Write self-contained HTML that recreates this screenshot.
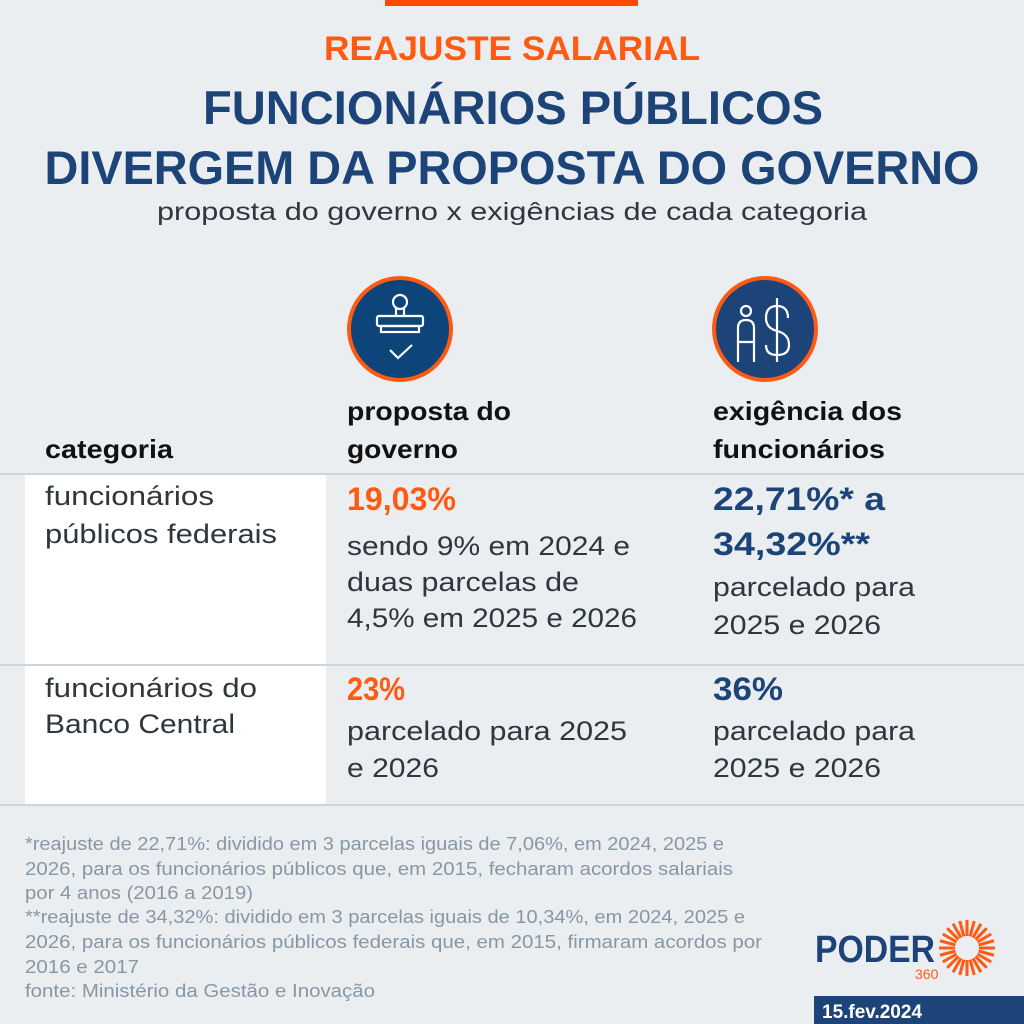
<!DOCTYPE html>
<html><head><meta charset="utf-8"><style>
html,body{margin:0;padding:0;background:#eaeef1;}
svg{display:block;font-family:"Liberation Sans",sans-serif;}
</style></head><body>
<svg width="1024" height="1024" viewBox="0 0 1024 1024" xmlns="http://www.w3.org/2000/svg">
<rect width="1024" height="1024" fill="#eaeef1"/>
<rect x="385" y="0" width="253" height="6" fill="#ff4a00"/>
<text x="512" y="60" text-anchor="middle" font-size="34" font-weight="bold" fill="#ff5a12" textLength="376" lengthAdjust="spacingAndGlyphs">REAJUSTE SALARIAL</text>
<text x="513" y="124" text-anchor="middle" font-size="47" font-weight="bold" fill="#1c4478" textLength="620" lengthAdjust="spacingAndGlyphs">FUNCIONÁRIOS PÚBLICOS</text>
<text x="512" y="184" text-anchor="middle" font-size="47" font-weight="bold" fill="#1c4478" textLength="935" lengthAdjust="spacingAndGlyphs">DIVERGEM DA PROPOSTA DO GOVERNO</text>
<text x="512" y="220" text-anchor="middle" font-size="25" fill="#2e373d" textLength="710" lengthAdjust="spacingAndGlyphs">proposta do governo x exigências de cada categoria</text>

<circle cx="400" cy="329" r="51" fill="#0d4479" stroke="#ff5a12" stroke-width="4"/>
<g fill="none" stroke="#fff" stroke-width="2.2">
<circle cx="400" cy="302" r="7"/>
<path d="M396 308 L396 316 M404 308 L404 316"/>
<rect x="377" y="316" width="46" height="10" rx="2"/>
<rect x="381" y="326" width="38" height="6"/>
<path d="M390 350 L398 358 L412 345"/>
</g>
<circle cx="765" cy="329" r="51" fill="#1c4478" stroke="#ff5a12" stroke-width="4"/>
<g fill="none" stroke="#fff" stroke-width="2.2">
<circle cx="746" cy="311" r="5"/>
<path d="M738 362 L738 328 Q738 320 746 320 Q754 320 754 328 L754 362 M738 342 L754 342"/>
<path d="M777 298 L777 362 M788 318 Q788 306 777 306 Q766 306 766 318 Q766 328 777 331 Q789 334 789 345 Q789 355 777 355 Q766 355 766 345"/>
</g>

<g font-size="26" font-weight="bold" fill="#111" lengthAdjust="spacingAndGlyphs">
<text x="45" y="458" textLength="128" lengthAdjust="spacingAndGlyphs">categoria</text>
<text x="347" y="420" textLength="164" lengthAdjust="spacingAndGlyphs">proposta do</text>
<text x="347" y="458" textLength="111" lengthAdjust="spacingAndGlyphs">governo</text>
<text x="713" y="420" textLength="189" lengthAdjust="spacingAndGlyphs">exigência dos</text>
<text x="713" y="458" textLength="172" lengthAdjust="spacingAndGlyphs">funcionários</text>
</g>
<rect x="25" y="474" width="301" height="331" fill="#fff"/>
<rect x="0" y="473" width="1024" height="2" fill="#cfd4d9"/>
<rect x="0" y="664" width="1024" height="2" fill="#cfd4d9"/>
<rect x="0" y="804" width="1024" height="2" fill="#cfd4d9"/>

<g font-size="27" fill="#2e373d">
<text x="45" y="505" textLength="169" lengthAdjust="spacingAndGlyphs">funcionários</text>
<text x="45" y="543" textLength="232" lengthAdjust="spacingAndGlyphs">públicos federais</text>
<text x="45" y="697" textLength="212" lengthAdjust="spacingAndGlyphs">funcionários do</text>
<text x="45" y="733" textLength="190" lengthAdjust="spacingAndGlyphs">Banco Central</text>
<text x="347" y="555" textLength="283" lengthAdjust="spacingAndGlyphs">sendo 9% em 2024 e</text>
<text x="347" y="591" textLength="232" lengthAdjust="spacingAndGlyphs">duas parcelas de</text>
<text x="347" y="627" textLength="290" lengthAdjust="spacingAndGlyphs">4,5% em 2025 e 2026</text>
<text x="347" y="740" textLength="280" lengthAdjust="spacingAndGlyphs">parcelado para 2025</text>
<text x="347" y="777" textLength="92" lengthAdjust="spacingAndGlyphs">e 2026</text>
<text x="713" y="596" textLength="202" lengthAdjust="spacingAndGlyphs">parcelado para</text>
<text x="713" y="634" textLength="168" lengthAdjust="spacingAndGlyphs">2025 e 2026</text>
<text x="713" y="740" textLength="202" lengthAdjust="spacingAndGlyphs">parcelado para</text>
<text x="713" y="777" textLength="168" lengthAdjust="spacingAndGlyphs">2025 e 2026</text>
</g>
<g font-size="32" font-weight="bold">
<text x="347" y="510" fill="#ff5a12" textLength="109" lengthAdjust="spacingAndGlyphs">19,03%</text>
<text x="347" y="700" fill="#ff5a12" textLength="58" lengthAdjust="spacingAndGlyphs">23%</text>
<text x="713" y="510" fill="#1c4478" textLength="172" lengthAdjust="spacingAndGlyphs">22,71%* a</text>
<text x="713" y="555" fill="#1c4478" textLength="157" lengthAdjust="spacingAndGlyphs">34,32%**</text>
<text x="713" y="700" fill="#1c4478" textLength="70" lengthAdjust="spacingAndGlyphs">36%</text>
</g>

<g font-size="18" fill="#8797a5">
<text x="25" y="850" textLength="699" lengthAdjust="spacingAndGlyphs">*reajuste de 22,71%: dividido em 3 parcelas iguais de 7,06%, em 2024, 2025 e</text>
<text x="25" y="875" textLength="708" lengthAdjust="spacingAndGlyphs">2026, para os funcionários públicos que, em 2015, fecharam acordos salariais</text>
<text x="25" y="899" textLength="228" lengthAdjust="spacingAndGlyphs">por 4 anos (2016 a 2019)</text>
<text x="25" y="923" textLength="720" lengthAdjust="spacingAndGlyphs">**reajuste de 34,32%: dividido em 3 parcelas iguais de 10,34%, em 2024, 2025 e</text>
<text x="25" y="948" textLength="737" lengthAdjust="spacingAndGlyphs">2026, para os funcionários públicos federais que, em 2015, firmaram acordos por</text>
<text x="25" y="973" textLength="114" lengthAdjust="spacingAndGlyphs">2016 e 2017</text>
<text x="25" y="997" textLength="350" lengthAdjust="spacingAndGlyphs">fonte: Ministério da Gestão e Inovação</text>
</g>

<text x="815" y="962" font-size="38" font-weight="bold" fill="#1c4478" textLength="120" lengthAdjust="spacingAndGlyphs">PODER</text>
<text x="915" y="979" font-size="14" fill="#ff5a12">360</text>
<g stroke="#ff5a12" stroke-width="3" transform="translate(967,948)">
<g id="rays"><line x1="0" y1="-12" x2="0" y2="-28"/></g>
<use href="#rays" transform="rotate(15)"/><use href="#rays" transform="rotate(30)"/><use href="#rays" transform="rotate(45)"/><use href="#rays" transform="rotate(60)"/><use href="#rays" transform="rotate(75)"/><use href="#rays" transform="rotate(90)"/><use href="#rays" transform="rotate(105)"/><use href="#rays" transform="rotate(120)"/><use href="#rays" transform="rotate(135)"/><use href="#rays" transform="rotate(150)"/><use href="#rays" transform="rotate(165)"/><use href="#rays" transform="rotate(180)"/><use href="#rays" transform="rotate(195)"/><use href="#rays" transform="rotate(210)"/><use href="#rays" transform="rotate(225)"/><use href="#rays" transform="rotate(240)"/><use href="#rays" transform="rotate(255)"/><use href="#rays" transform="rotate(270)"/><use href="#rays" transform="rotate(285)"/><use href="#rays" transform="rotate(300)"/><use href="#rays" transform="rotate(315)"/><use href="#rays" transform="rotate(330)"/><use href="#rays" transform="rotate(345)"/>
</g>
<rect x="814" y="996" width="210" height="28" fill="#1c4478"/>
<text x="822" y="1018" font-size="19" font-weight="bold" fill="#fff">15.fev.2024</text>
</svg>
</body></html>
